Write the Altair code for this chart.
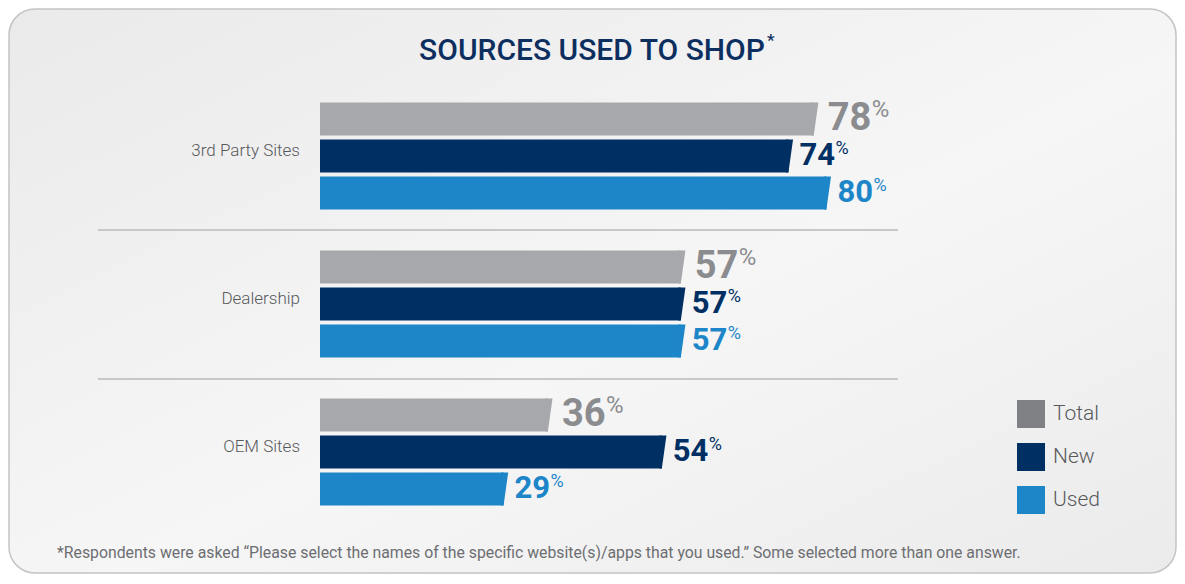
import altair as alt
import pandas as pd

categories = ["3rd Party Sites", "Dealership", "OEM Sites"]
series = ["Total", "New", "Used"]
total_values = [78, 57, 36]
new_values = [74, 57, 54]
used_values = [80, 57, 29]

title_text = "SOURCES USED TO SHOP"
footnote_text = ("*Respondents were asked \u201cPlease select the names of the specific "
                 "website(s)/apps that you used.\u201d Some selected more than one answer.")

bar_colors = ["#a7a8ac", "#003063", "#1d86c8"]
label_colors = ["#8b8c8f", "#003063", "#1d86c8"]
legend_colors = ["#808184", "#003063", "#1d86c8"]

rows = []
for i, c in enumerate(categories):
    for s, vals in zip(series, [total_values, new_values, used_values]):
        rows.append({"Category": c, "Series": s, "Value": vals[i]})
df = pd.DataFrame(rows)
one = pd.DataFrame({"k": [0]})

W, H = 1169, 566
FONT = "Roboto"

x_enc = alt.X("Value:Q", scale=alt.Scale(domain=[0, 100], range=[312, 945]), axis=None)
y_enc = alt.Y("Category:N", scale=alt.Scale(domain=categories, range=[74, 518],
                                            paddingInner=0.277, paddingOuter=0.1385), axis=None)
yo_enc = alt.YOffset("Series:N", scale=alt.Scale(domain=series, paddingInner=0.108, paddingOuter=0))

panel = alt.Chart(one).mark_rect(
    cornerRadius=26, stroke="#c4c4c6", strokeWidth=1.5,
    fill=alt.LinearGradient(
        gradient="linear",
        stops=[alt.GradientStop(color="#eaeaeb", offset=0),
               alt.GradientStop(color="#f6f6f7", offset=0.55),
               alt.GradientStop(color="#ebebec", offset=1)],
        x1=0, x2=1, y1=0, y2=1),
).encode(x=alt.value(1), x2=alt.value(W - 1), y=alt.value(1), y2=alt.value(H - 1))

sep1 = alt.Chart(one).mark_rule(color="#c8c8ca", strokeWidth=2).encode(
    x=alt.value(90), x2=alt.value(890), y=alt.value(222))
sep2 = alt.Chart(one).mark_rule(color="#c8c8ca", strokeWidth=2).encode(
    x=alt.value(90), x2=alt.value(890), y=alt.value(371))

bar_color = alt.Color("Series:N", scale=alt.Scale(domain=series, range=bar_colors), legend=None)

bars = alt.Chart(df).mark_bar().encode(x=x_enc, y=y_enc, yOffset=yo_enc, color=bar_color)
tips = alt.Chart(df).mark_point(
    shape="M-0.15,-1 L0.28,-1 L0,1 L-0.15,1 Z", size=1089, filled=True, opacity=1, strokeWidth=0
).encode(x=x_enc, y=y_enc, yOffset=yo_enc, color=bar_color)


def labels(sel, num_size, num_dx, pct_size, pct_dx, pct_dy):
    base = alt.Chart(df).transform_filter(alt.FieldOneOfPredicate(field="Series", oneOf=sel))
    enc = dict(x=x_enc, y=y_enc, yOffset=yo_enc,
               color=alt.Color("Series:N", scale=alt.Scale(domain=series, range=label_colors), legend=None))
    num = base.mark_text(align="left", baseline="middle", font=FONT, fontWeight="bold",
                         fontSize=num_size, dx=num_dx).encode(
        text=alt.Text("Value:Q", format="d"), **enc)
    pct = base.mark_text(align="left", baseline="middle", font=FONT, fontWeight="normal",
                         fontSize=pct_size, dx=pct_dx, dy=pct_dy).encode(text=alt.value("%"), **enc)
    return [num, pct]


total_labels = labels(["Total"], 38, 14, 24, 58, -9)
other_labels = labels(["New", "Used"], 31, 11, 18, 47, -7)

cat_labels = alt.Chart(pd.DataFrame({"Category": categories})).mark_text(
    align="right", baseline="middle", font=FONT, fontSize=17, fontWeight=300, color="#58595b", dy=-5
).encode(x=alt.value(292), y=y_enc, text="Category:N")

title = alt.Chart(one).mark_text(
    text=title_text, font=FONT, fontSize=30, fontWeight=500, color="#0d2f5f",
    align="center", baseline="alphabetic"
).encode(x=alt.value(584), y=alt.value(52))

title_star = alt.Chart(one).mark_text(
    text="*", font=FONT, fontSize=17, fontWeight=500, color="#0d2f5f",
    align="left", baseline="top"
).encode(x=alt.value(759), y=alt.value(25))

footnote = alt.Chart(one).mark_text(
    text=footnote_text, font=FONT, fontSize=15.8, color="#6d6e71",
    align="left", baseline="alphabetic"
).encode(x=alt.value(49), y=alt.value(550))

legend_layer = alt.Chart(pd.DataFrame({"Series": series})).mark_square(opacity=0, size=1).encode(
    x=alt.value(0), y=alt.value(0),
    color=alt.Color("Series:N", sort=series,
                    scale=alt.Scale(domain=series, range=legend_colors),
                    legend=alt.Legend(title=None, orient="none", legendX=1009, legendY=392,
                                      symbolType="square", symbolSize=784, symbolOpacity=1,
                                      symbolStrokeWidth=0, labelFontSize=21, labelFont=FONT,
                                      labelFontWeight=300, labelColor="#58595b", labelOffset=8,
                                      rowPadding=15, padding=0)))

chart = alt.layer(
    panel, sep1, sep2, bars, tips, *total_labels, *other_labels, cat_labels, title, title_star,
    footnote, legend_layer
).resolve_scale(color="independent").properties(
    width=W, height=H, autosize=alt.AutoSizeParams(type="none"), padding=0, background="white"
).configure_view(stroke=None)

chart.save("out.html", embed_options={"renderer": "svg", "actions": False})
